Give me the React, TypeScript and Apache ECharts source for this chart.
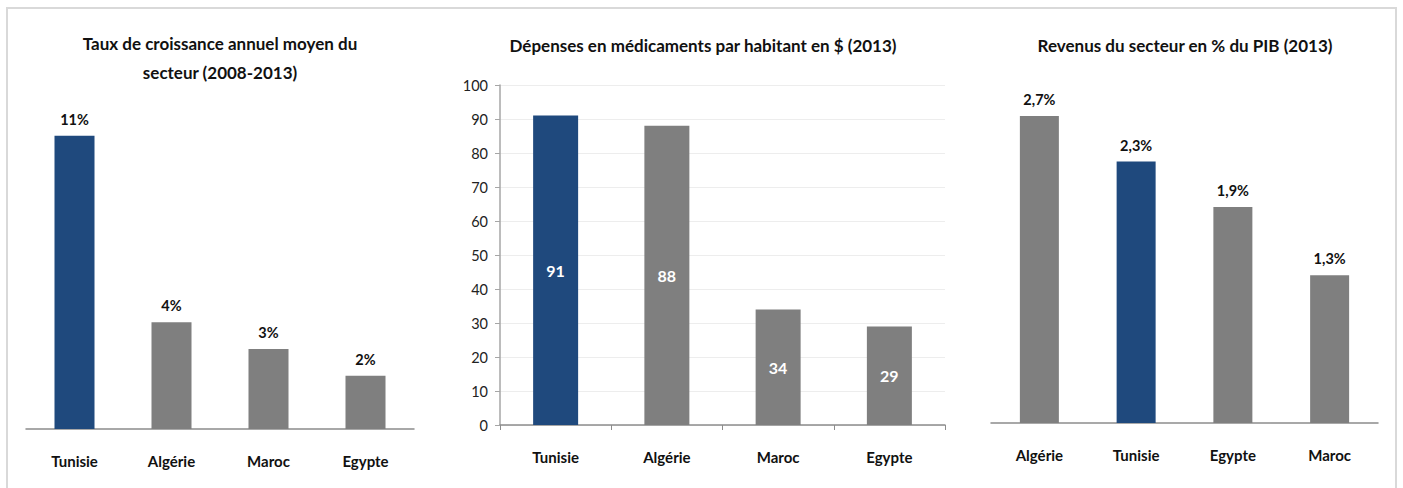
import React, { useEffect, useRef } from "react";
import * as echarts from "echarts";

const cats1 = ["Tunisie", "Algérie", "Maroc", "Egypte"];
const vals1 = [11, 4, 3, 2];
const title1 = "Taux de croissance annuel moyen du\nsecteur (2008-2013)";

const cats2 = ["Tunisie", "Algérie", "Maroc", "Egypte"];
const vals2 = [91, 88, 34, 29];
const title2 = "Dépenses en médicaments par habitant en $ (2013)";

const cats3 = ["Algérie", "Tunisie", "Egypte", "Maroc"];
const vals3 = [2.7, 2.3, 1.9, 1.3];
const title3 = "Revenus du secteur en % du PIB (2013)";

const BLUE = "#1f497d";
const GRAY = "#7f7f7f";
const AXIS = "#8c8c8c";
const FONT = "Lato, 'Open Sans', sans-serif";

const colored = (cats: string[], vals: number[]) =>
  vals.map((v, i) => ({ value: v, itemStyle: { color: cats[i] === "Tunisie" ? BLUE : GRAY } }));

export default function App() {
  const ref = useRef<HTMLDivElement>(null);
  useEffect(() => {
    document.body.style.margin = "0";
    const chart = echarts.init(ref.current!, null, { renderer: "svg" });
    const catLabel = { fontFamily: FONT, fontWeight: "bold" as const, fontSize: 15, color: "#111", margin: 24 };
    const topLabel = { show: true, position: "top" as const, distance: 9, fontFamily: FONT, fontWeight: "bold" as const, fontSize: 14.5, color: "#111" };
    chart.setOption({
      animation: false,
      grid: [
        { left: 26, top: 109, width: 388, height: 320 },
        { left: 500, top: 85, width: 445, height: 340 },
        { left: 991, top: 82, width: 387, height: 341 },
      ],
      xAxis: [
        { gridIndex: 0, type: "category", data: cats1, axisLine: { lineStyle: { color: AXIS, width: 1.5 } }, axisTick: { show: false }, axisLabel: catLabel },
        { gridIndex: 1, type: "category", data: cats2, axisLine: { lineStyle: { color: AXIS, width: 1.5 } }, axisTick: { show: true, length: 5, lineStyle: { color: AXIS } }, axisLabel: catLabel },
        { gridIndex: 2, type: "category", data: cats3, axisLine: { lineStyle: { color: AXIS, width: 1.5 } }, axisTick: { show: false }, axisLabel: catLabel },
      ],
      yAxis: [
        { gridIndex: 0, type: "value", min: 0, max: 12, show: false },
        {
          gridIndex: 1, type: "value", min: 0, max: 100, interval: 10,
          axisLine: { show: true, lineStyle: { color: "#a6a6a6", width: 1.5 } },
          axisTick: { show: true, length: 5, lineStyle: { color: "#a6a6a6" } },
          axisLabel: { fontFamily: FONT, fontSize: 14.5, color: "#222", margin: 12 },
          splitLine: { show: true, lineStyle: { color: "#ededed", width: 1 } },
        },
        { gridIndex: 2, type: "value", min: 0, max: 3, show: false },
      ],
      series: [
        { type: "bar", xAxisIndex: 0, yAxisIndex: 0, barWidth: 40, data: colored(cats1, vals1), label: { ...topLabel, formatter: (p: any) => `${p.value}%` } },
        {
          type: "bar", xAxisIndex: 1, yAxisIndex: 1, barWidth: 45, data: colored(cats2, vals2),
          label: { show: true, position: "inside", fontFamily: FONT, fontWeight: "bold", fontSize: 16, color: "#fff" },
        },
        {
          type: "bar", xAxisIndex: 2, yAxisIndex: 2, barWidth: 39, data: colored(cats3, vals3),
          label: { ...topLabel, formatter: (p: any) => `${Number(p.value).toFixed(1).replace(".", ",")}%` },
        },
      ],
      graphic: [
        { type: "rect", shape: { x: 7, y: 8, width: 1389, height: 500 }, style: { fill: "none", stroke: "#d9d9d9", lineWidth: 2 }, silent: true },
        { type: "text", x: 220, y: 58, style: { text: title1, fontFamily: FONT, fontWeight: "bold", fontSize: 17, lineHeight: 29, fill: "#111", align: "center", verticalAlign: "middle" } },
        { type: "text", x: 703, y: 45, style: { text: title2, fontFamily: FONT, fontWeight: "bold", fontSize: 17, fill: "#111", align: "center", verticalAlign: "middle" } },
        { type: "text", x: 1185, y: 45, style: { text: title3, fontFamily: FONT, fontWeight: "bold", fontSize: 17, fill: "#111", align: "center", verticalAlign: "middle" } },
      ],
    });
    return () => chart.dispose();
  }, []);
  return <div ref={ref} style={{ width: 1403, height: 488 }} />;
}
